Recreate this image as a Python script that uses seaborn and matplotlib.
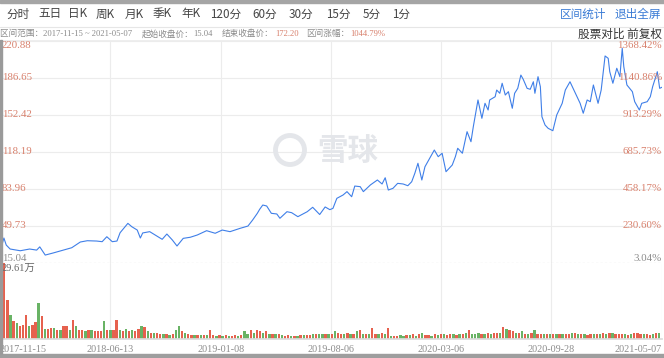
#!/usr/bin/env python3
"""
Xueqiu style K-line overview: price line + daily volume bars
"""
import matplotlib
matplotlib.use("Agg")
import matplotlib.pyplot as plt
from matplotlib.patches import Circle, Rectangle
from matplotlib.lines import Line2D
import seaborn as sns
import pandas as pd

# ---- data -------------------------------------------------------------
# trading-day number (0 = 2017-11-15, 849 = 2021-05-07) and close price
price_day = [0, 5, 8, 13, 26, 38, 47, 51, 58, 68, 81, 92, 103, 112, 124, 131, 137, 144,
             150, 154, 164, 169, 176, 180, 183, 192, 201, 208, 214, 221, 227, 235, 244,
             253, 265, 276, 285, 295, 308, 318, 324, 330, 333, 337, 342, 348, 355, 359,
             368, 374, 382, 394, 401, 410, 417, 423, 427, 432, 440, 445, 451, 455, 462,
             466, 475, 484, 490, 494, 498, 504, 510, 517, 523, 528, 532, 536, 541, 545,
             551, 557, 562, 567, 572, 580, 584, 587, 593, 599, 604, 607, 613, 618, 622,
             626, 628, 635, 637, 641, 644, 648, 652, 657, 660, 664, 668, 671, 676, 680,
             684, 686, 690, 693, 695, 699, 703, 709, 714, 718, 721, 725, 731, 737, 744,
             748, 753, 757, 761, 767, 771, 776, 780, 782, 786, 791, 795, 798, 800, 804,
             811, 814, 820, 823, 830, 834, 837, 843, 846, 849]
price = [25.5, 38.2, 31.7, 28.0, 26.4, 28.0, 27.0, 30.0, 22.4, 24.3, 27.0, 29.2, 34.5,
         35.7, 35.4, 34.8, 39.4, 34.8, 35.4, 43.1, 51.8, 48.7, 45.6, 38.2, 42.9, 44.1,
         40.1, 37.0, 41.9, 36.4, 30.8, 37.9, 38.9, 41.0, 45.0, 42.6, 45.6, 44.1, 47.2,
         49.3, 54.9, 61.1, 64.8, 68.8, 67.9, 61.1, 60.5, 56.5, 62.6, 61.7, 58.0, 62.6,
         66.7, 60.0, 67.0, 64.5, 65.7, 75.0, 78.1, 81.2, 76.5, 86.4, 85.8, 81.2, 87.4,
         92.0, 88.3, 94.1, 82.7, 84.3, 88.9, 88.3, 86.7, 90.4, 98.2, 107.5, 92.0, 104.3,
         112.1, 119.8, 113.6, 116.8, 99.7, 105.9, 113.6, 121.4, 116.8, 136.8, 127.5,
         141.4, 166.2, 149.2, 163.1, 156.9, 166.2, 169.2, 175.4, 172.4, 181.7, 170.8,
         173.9, 158.5, 172.4, 177.0, 189.3, 185.4, 177.0, 176.1, 183.1, 172.4, 187.8,
         178.5, 150.7, 143.0, 139.9, 137.7, 152.3, 158.5, 163.1, 175.4, 183.1, 173.9,
         163.1, 153.9, 166.2, 164.6, 180.1, 163.1, 175.4, 207.0, 204.8, 192.4, 181.7,
         195.6, 187.8, 214.1, 197.1, 180.1, 173.9, 164.6, 156.9, 163.1, 164.6, 169.2,
         178.5, 192.4, 177.0, 178.0]

# volume (万股), one bar every 4 trading days, r = up day, g = down day
volume = [5.0, 29.61, 15.3, 9.5, 7.0, 6.2, 5.0, 5.6, 9.5, 5.0, 5.5, 6.5, 14.0, 9.0, 4.0,
          4.0, 4.3, 4.3, 3.6, 3.6, 5.0, 5.0, 3.6, 7.5, 5.0, 3.6, 3.6, 3.2, 3.6, 3.6,
          3.0, 3.2, 3.0, 7.0, 3.5, 3.5, 3.6, 7.5, 3.5, 3.2, 4.0, 3.0, 3.5, 3.2, 4.0,
          5.0, 4.5, 3.0, 2.5, 2.5, 2.2, 2.0, 1.8, 1.8, 1.6, 1.8, 3.5, 5.0, 3.0, 2.5,
          2.0, 1.6, 1.5, 1.6, 1.4, 1.6, 1.5, 3.5, 1.4, 1.3, 1.4, 1.2, 1.5, 1.3, 1.2,
          1.4, 1.3, 1.4, 3.0, 2.0, 3.5, 2.5, 3.5, 3.0, 2.5, 3.0, 2.0, 2.0, 2.0, 1.8,
          1.5, 1.3, 1.5, 1.3, 1.2, 1.3, 1.5, 1.5, 1.4, 1.5, 1.8, 2.0, 1.8, 2.0, 1.9,
          2.0, 1.8, 3.0, 2.5, 2.0, 1.8, 2.5, 2.0, 1.8, 3.0, 3.5, 2.0, 1.8, 2.0, 4.4,
          2.0, 1.8, 2.5, 2.0, 4.4, 1.2, 1.0, 1.2, 1.4, 1.2, 1.6, 1.4, 2.0, 1.2, 1.8,
          2.2, 1.5, 1.6, 1.3, 1.8, 1.6, 2.0, 1.8, 1.6, 2.0, 1.8, 1.6, 2.0, 1.8, 2.5,
          3.5, 1.8, 2.0, 2.2, 1.9, 2.0, 2.2, 1.8, 2.5, 2.2, 2.5, 4.5, 4.0, 3.5, 3.0,
          2.5, 2.2, 3.0, 2.0, 2.0, 2.5, 3.5, 2.0, 2.0, 1.8, 2.0, 1.8, 2.0, 1.8, 2.0,
          1.8, 1.8, 2.0, 2.5, 2.5, 1.8, 2.0, 1.8, 1.6, 1.8, 2.0, 1.8, 1.8, 2.5, 2.0,
          2.2, 2.5, 1.8, 2.0, 1.8, 2.0, 1.6, 2.0, 2.2, 2.5, 2.0, 1.8, 2.0, 1.6, 2.0,
          2.2, 2.5]
vol_side = ("rrrgrgrrrgrrgrgrrgrgrrgrgrrgrgrrrgrgrrgrgrgrrgrgrgrrgrgrggrgrrgrgrgrr"
            "grgrgrrgrggrgrrgrgrgrgrrgrgrgrrgrggrgrgrrgrgrgrgrgrrgrgrgrrggrgrgrgrr"
            "grgrgrrgrgrgrgggrgrgrrgrgrrgrgrgrgrrgrgrgrgrrgrgrgrrgrgrgrg")[:len(volume)]
vol_day = [4 * i for i in range(len(volume))]

y_ticks = [15.04, 49.73, 83.96, 118.19, 152.42, 186.65, 220.88]
pct_ticks = ["3.04%", "230.60%", "458.17%", "685.73%", "913.29%", "1140.86%", "1368.42%"]
date_days = [0, 141, 283, 424, 566, 707, 849]
date_labels = ["2017-11-15", "2018-06-13", "2019-01-08", "2019-08-06",
               "2020-03-06", "2020-09-28", "2021-05-07"]
periods = ["分时", "五日", "日K", "周K", "月K", "季K", "年K", "120分", "60分",
           "30分", "15分", "5分", "1分"]

# ---- style ------------------------------------------------------------
sns.set_theme(style="white")
plt.rcParams['font.family'] = ['Noto Sans CJK SC', 'DejaVu Sans']
SERIF = ['Liberation Serif', 'Noto Sans CJK SC']
RED_TXT = '#d8806c'
GRAY_TXT = '#8c8c8c'
GRID = '#ececec'
LINE = '#3f7fe8'
W, H = 664, 358

fig = plt.figure(figsize=(W / 100, H / 100), dpi=100)
fig.patch.set_facecolor('white')


def fy(y):
    return 1 - y / H


# frame bands
fig.add_artist(Rectangle((0, fy(3)), 1, 3 / H, transform=fig.transFigure, color='#a5a5a5'))
fig.add_artist(Rectangle((0, 0), 1, 4 / H, transform=fig.transFigure, color='#9e9e9e'))
fig.add_artist(Rectangle((0, 4 / H), 2 / W, fy(40) - 4 / H, transform=fig.transFigure,
                         color='#9a9a9a'))
fig.add_artist(Line2D([0, 1], [fy(27), fy(27)], transform=fig.transFigure, color='#e6e6e6', lw=0.8))

# toolbar
px = [6, 38, 68, 96, 125, 153, 181, 210, 252, 289, 326, 363, 392]
for x, t in zip(px, periods):
    fig.text(x / W, fy(14), t, fontsize=8.4, color='#444444', va='center')
fig.text(560 / W, fy(14), "区间统计", fontsize=8.4, color='#3a7bd5', va='center')
fig.text(661 / W, fy(14), "退出全屏", fontsize=8.4, color='#3a7bd5', va='center', ha='right')

# summary row
row = [(0, "区间范围：2017-11-15 ~ 2021-05-07", GRAY_TXT),
       (142, "起始收盘价：", GRAY_TXT), (193, "15.04", GRAY_TXT),
       (222, "结束收盘价：", GRAY_TXT), (275, "172.20", RED_TXT),
       (306, "区间涨幅：", GRAY_TXT), (350, "1044.79%", RED_TXT)]
for x, t, c in row:
    fig.text(x / W, fy(34), t, fontsize=6.2, color=c, va='center', family=SERIF)
fig.text(662 / W, fy(34), "股票对比 前复权", fontsize=8.4, color='#333333',
         va='center', ha='right')

# ---- price panel --------------------------------------------------------
ax = fig.add_axes([0, fy(263), 662 / W, (263 - 41) / H])
df = pd.DataFrame({'day': price_day, 'close': price})
sns.lineplot(data=df, x='day', y='close', ax=ax, color=LINE, lw=0.8)
ax.set_xlim(0, 849)
ax.set_ylim(y_ticks[0], y_ticks[-1])
ax.set_yticks(y_ticks[1:])
ax.set_xticks(date_days[1:-1])
ax.tick_params(left=False, bottom=False, labelleft=False, labelbottom=False)
ax.grid(True, color=GRID, lw=0.8)
ax.set_xlabel('')
ax.set_ylabel('')
for s in ['left', 'right', 'bottom']:
    ax.spines[s].set_visible(False)
ax.spines['top'].set_color(GRID)
ax.axhline(y_ticks[0], color='#b5b5b5', lw=0.8, ls=(0, (2, 2)), clip_on=False)

tr = ax.get_yaxis_transform()
for v, p in zip(y_ticks, pct_ticks):
    c = GRAY_TXT if v == y_ticks[0] else RED_TXT
    va = 'bottom' if v == y_ticks[0] else ('top' if v == y_ticks[-1] else 'center')
    ax.text(0.003, v, f"{v:.2f}", transform=tr, fontsize=7.8, color=c, va=va, family=SERIF)
    ax.text(1.0, v, p, transform=tr, fontsize=7.8, color=c, va=va, ha='right', family=SERIF)

# watermark
fig.add_artist(Circle((2.90, 3.58 - 1.50), 0.145, transform=fig.dpi_scale_trans,
                      fill=False, ec='#e4e6ea', lw=3.5))
fig.text(317 / W, fy(151), "雪球", fontsize=22, color='#e4e6ea', va='center',
         fontweight='bold')

# ---- volume panel -------------------------------------------------------
axv = fig.add_axes([0, fy(339), 662 / W, (339 - 263) / H])
colors = ['#e2452f' if s == 'r' else '#4fa64a' for s in vol_side]
axv.bar(vol_day, volume, width=3.0, color=colors, alpha=0.85, align='edge', lw=0)
axv.set_xlim(0, 849)
axv.set_ylim(0, 29.61)
axv.set_yticks([])
axv.set_xticks(date_days)
axv.set_xticklabels(date_labels, fontsize=7.3, color=GRAY_TXT, family=SERIF)
lbls = axv.get_xticklabels()
lbls[0].set_ha('left')
lbls[-1].set_ha('right')
axv.tick_params(length=0, pad=4)
axv.grid(True, axis='x', color=GRID, lw=0.8)
for s in ['left', 'right', 'top']:
    axv.spines[s].set_visible(False)
axv.spines['bottom'].set_color('#dcdcdc')
axv.text(0.003, 0.97, "29.61万", transform=axv.transAxes, fontsize=7.5, color='#666666',
         va='top', family=SERIF)

fig.savefig("out.png", dpi=100)
